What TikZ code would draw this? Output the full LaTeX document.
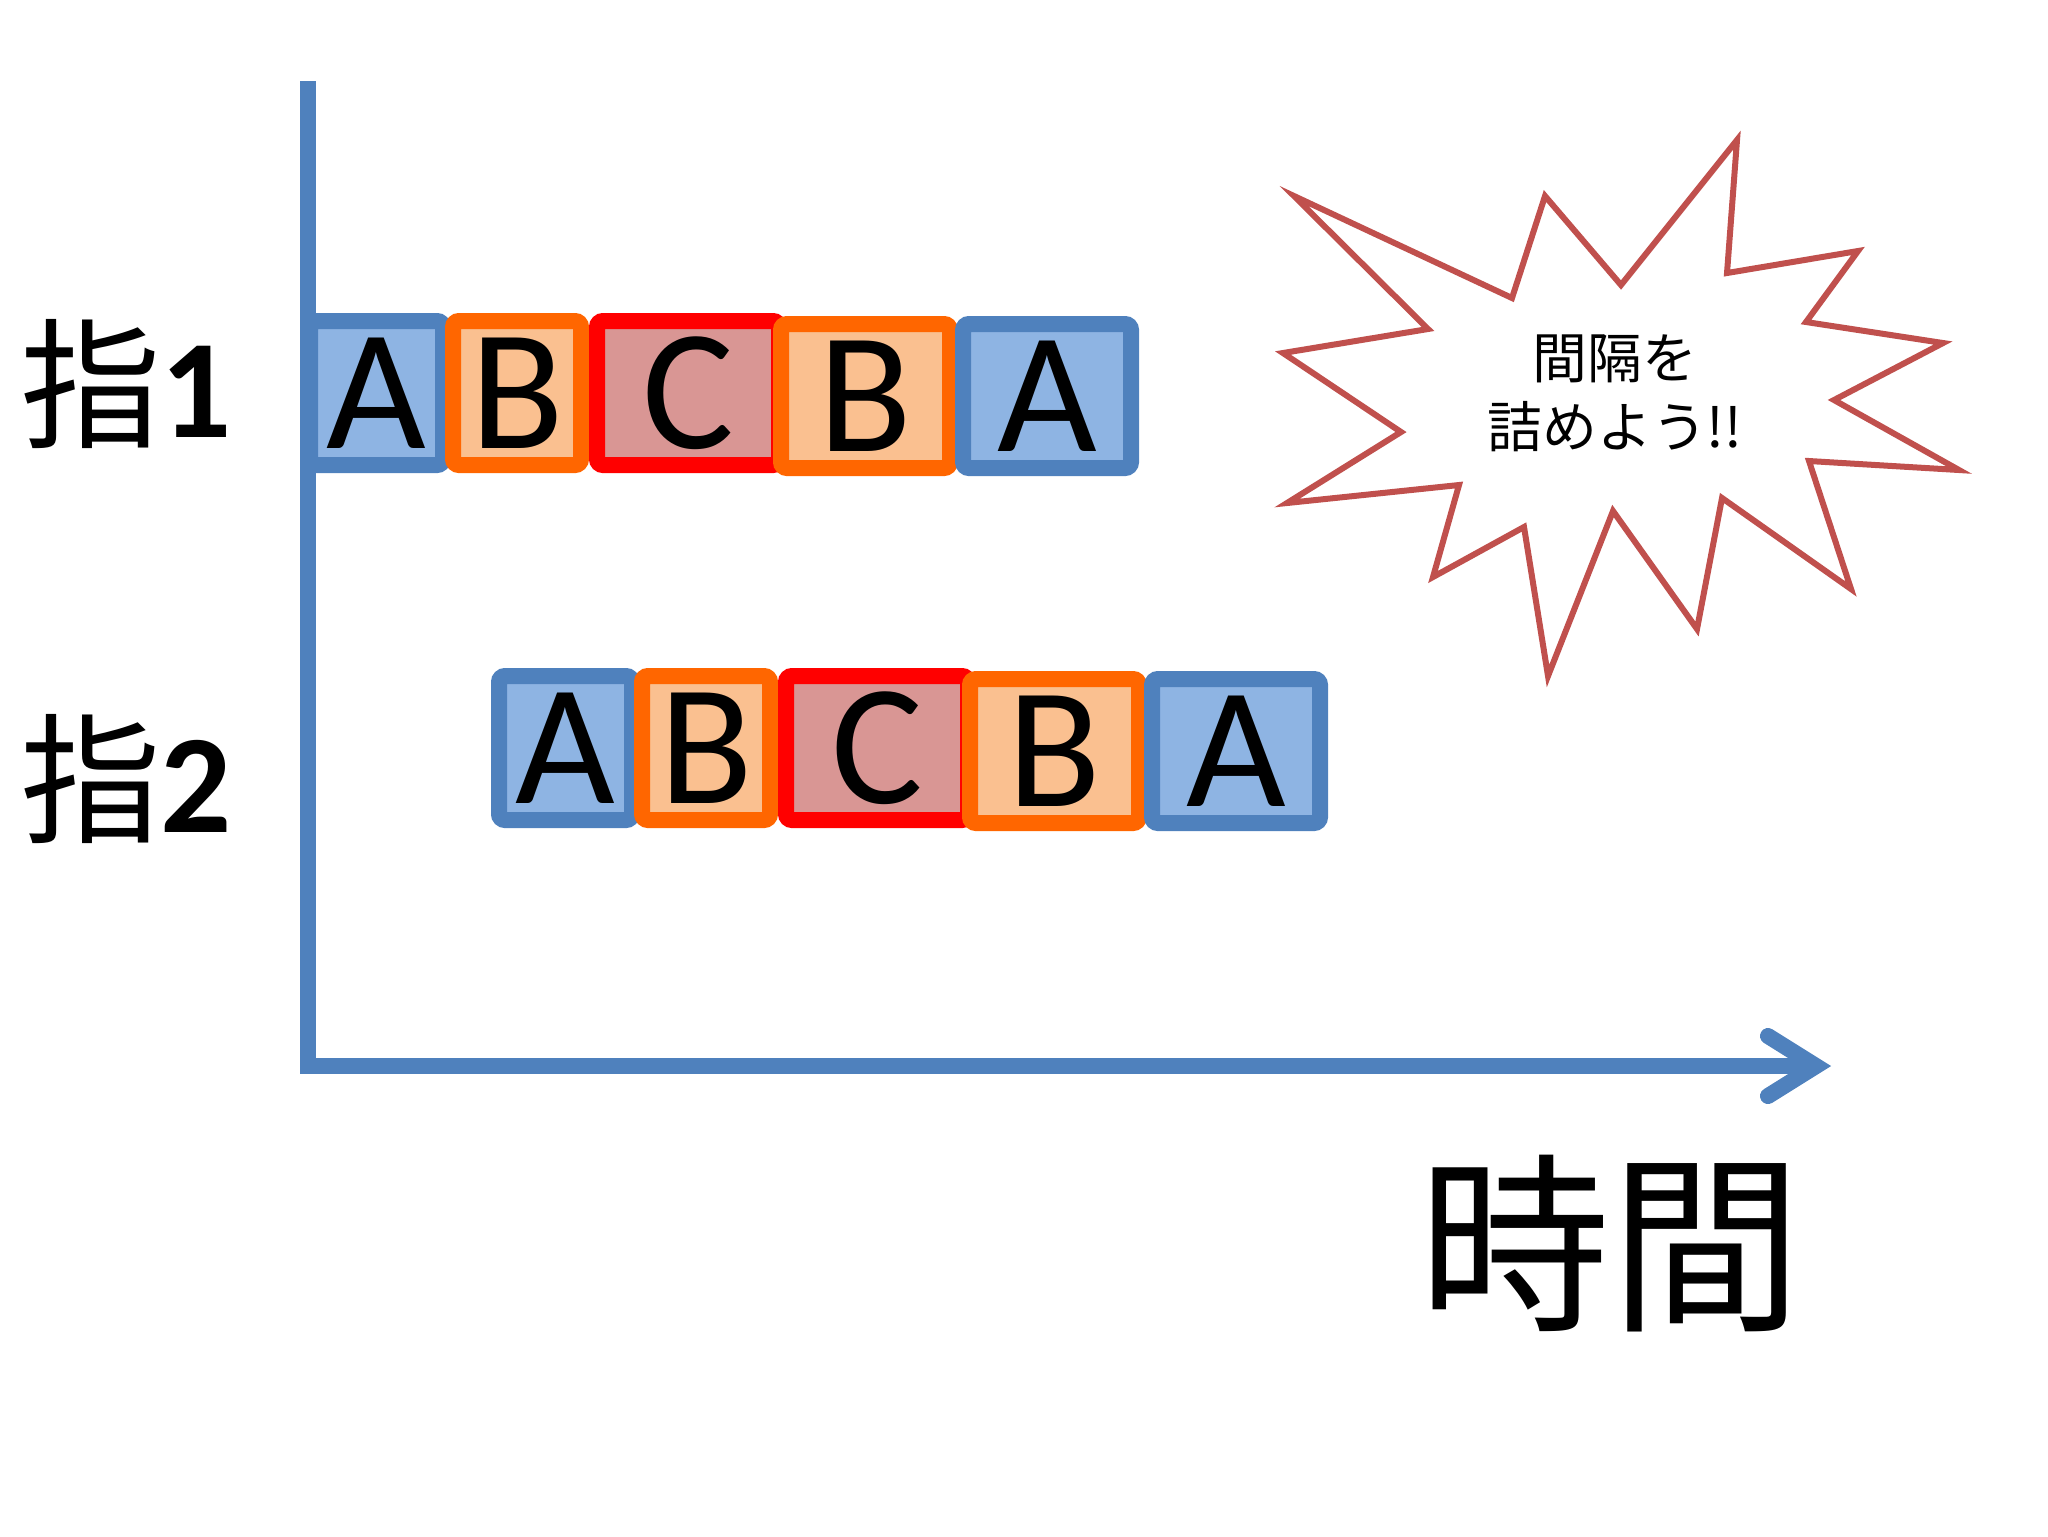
\documentclass[tikz,border=0pt]{standalone}
\usepackage{fontspec}
\setmainfont{Carlito}
\newfontfamily\jpfont{Noto Sans CJK JP}
\usepackage{tikz}
\usetikzlibrary{calc}
\definecolor{axblue}{RGB}{79,129,189}
\definecolor{afill}{RGB}{142,180,227}
\definecolor{borange}{RGB}{255,102,0}
\definecolor{bfill}{RGB}{250,192,144}
\definecolor{cred}{RGB}{255,0,0}
\definecolor{cfill}{RGB}{217,150,148}
\definecolor{burst}{RGB}{192,80,77}

\begin{document}
\begin{tikzpicture}[x=0.1mm,y=-0.1mm,
  blk/.style={line width=1.6mm, rounded corners=0.6mm, inner sep=0pt,
    minimum height=14.4mm, font=\fontsize{49pt}{49pt}\selectfont},
  ablk/.style={blk, draw=axblue, fill=afill},
  bblk/.style={blk, draw=borange, fill=bfill},
  cblk/.style={blk, draw=cred, fill=cfill},
  axis/.style={axblue, line width=1.6mm},
  lbl/.style={font=\fontsize{40pt}{40pt}\selectfont, inner sep=0pt}]
  \useasboundingbox (0,0) rectangle (2048,1536);
  % two rows of blocks, row 2 shifted right and down
  \foreach \r/\dx/\dy in {1/0/0, 2/189/355} {
    \begin{scope}[shift={(\dx,\dy)}]
      \foreach \n/\cx/\cy/\w/\k/\t in {a/376.5/393/149/ablk/A, b/517/393/144/bblk/B,
          c/688/393/198/cblk/C, d/865.5/396/185/bblk/B, e/1047/396/184/ablk/A}
        \node[\k, minimum width={(\w-16)*0.1mm}] (r\r\n) at (\cx,\cy) {\t};
    \end{scope}
  }
  % axes
  \coordinate (ytop) at (308,81);
  \coordinate (origin) at (308,1066);
  \coordinate (xtip) at (1816,1066);
  \draw[axis] (ytop) -- (origin) -- (xtip);
  \draw[axis, line cap=round] ($(xtip)+(-48,-30)$) -- (xtip) -- ($(xtip)+(-48,30)$);
  % row labels
  \node[lbl, anchor=base] (f1) at (126,437) {{\jpfont 指}\textbf{1}};
  \node[lbl, anchor=base] (f2) at (126,832) {{\jpfont 指}\textbf{2}};
  \node[font=\jpfont\fontsize{54.6pt}{54.6pt}\selectfont, inner sep=0pt, anchor=base]
    (jikan) at (1610,1316) {時間};
  % starburst
  \draw[burst, line width=0.6mm] (1294,196) -- (1512,298) -- (1545,196) -- (1621,285)
    -- (1737,140) -- (1727,273) -- (1858,251) -- (1806,322) -- (1943,343)
    -- (1834,400) -- (1959,470) -- (1809,461) -- (1851,589) -- (1722,498)
    -- (1697,629) -- (1613,511) -- (1548,676) -- (1524,527) -- (1433,577)
    -- (1459,485) -- (1287,503) -- (1401,432) -- (1283,353) -- (1428,329) -- cycle;
  \node[font=\jpfont\fontsize{15.6pt}{19.6pt}\selectfont, align=center, inner sep=0pt]
    (msg) at (1615,393) {間隔を\\詰めよう!!};
\end{tikzpicture}
\end{document}
